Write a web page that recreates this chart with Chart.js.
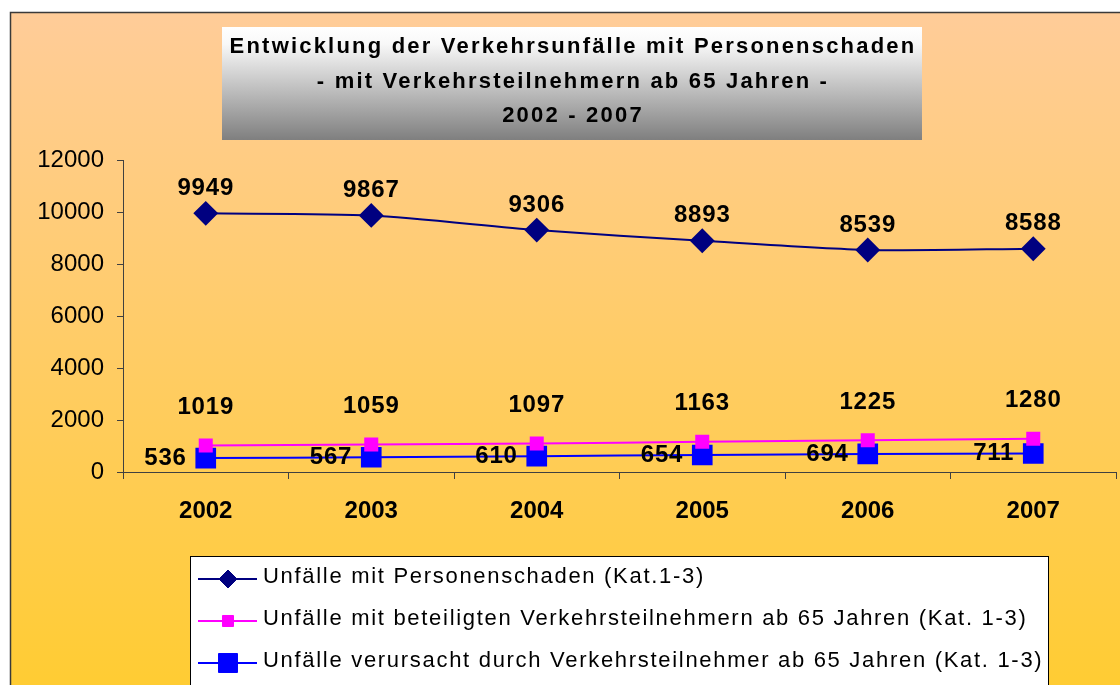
<!DOCTYPE html>
<html>
<head>
<meta charset="utf-8">
<script src="https://cdn.jsdelivr.net/npm/chart.js@4/dist/chart.umd.min.js"></script>
<style>
  body { margin: 0; background: #fff; }
  canvas { display: block; }
</style>
</head>
<body>
<canvas id="unfaelle" width="1120" height="685"></canvas>
<script>
/* Verkehrsunfaelle mit Personenschaden 2002 - 2007 */

var jahre = ['2002', '2003', '2004', '2005', '2006', '2007'];
var personenschaden = [9949, 9867, 9306, 8893, 8539, 8588];
var beteiligt65 = [1019, 1059, 1097, 1163, 1225, 1280];
var verursacht65 = [536, 567, 610, 654, 694, 711];
var serienNamen = [
    'Unfälle mit Personenschaden (Kat.1-3)',
    'Unfälle mit beteiligten Verkehrsteilnehmern ab 65 Jahren (Kat. 1-3)',
    'Unfälle verursacht durch Verkehrsteilnehmer ab 65 Jahren (Kat. 1-3)'
];
var titelZeilen = [
    'Entwicklung der Verkehrsunfälle mit Personenschaden',
    '- mit Verkehrsteilnehmern ab 65 Jahren -',
    '2002 - 2007'
];

var schrift = '"Liberation Sans", Arial, sans-serif';

// Hintergrund, Rahmen und Titelkasten
var hintergrund = {
    id: 'hintergrund',
    beforeDraw: function (chart) {
        var c = chart.ctx;
        c.save();
        c.fillStyle = '#ffffff';
        c.fillRect(0, 0, chart.width, chart.height);
        var g = c.createLinearGradient(0, 12, 0, chart.height);
        g.addColorStop(0, '#ffcc99');
        g.addColorStop(1, '#ffcc33');
        c.fillStyle = g;
        c.fillRect(10, 12, chart.width, chart.height);
        c.strokeStyle = '#3a3a3a';
        c.lineWidth = 1.5;
        c.strokeRect(10.5, 12.5, chart.width, chart.height);

        var tg = c.createLinearGradient(0, 27, 0, 140);
        tg.addColorStop(0, '#ffffff');
        tg.addColorStop(0.15, '#f8f8f8');
        tg.addColorStop(1, '#7f7f7f');
        c.fillStyle = tg;
        c.fillRect(222, 27, 700, 113);
        c.fillStyle = '#000';
        c.font = 'bold 22px ' + schrift;
        c.letterSpacing = '2.2px';
        c.textAlign = 'center';
        c.textBaseline = 'middle';
        var ys = [47, 82, 116];
        titelZeilen.forEach(function (t, i) { c.fillText(t, 573, ys[i]); });
        c.restore();
    }
};

// Datenbeschriftungen
var beschriftung = {
    id: 'beschriftung',
    afterDatasetsDraw: function (chart, args, opts) {
        var c = chart.ctx;
        c.save();
        c.font = 'bold 24px ' + schrift;
        c.letterSpacing = '0.8px';
        c.fillStyle = '#000';
        c.textBaseline = 'middle';
        chart.data.datasets.forEach(function (ds, i) {
            var o = opts.versatz[i];
            chart.getDatasetMeta(i).data.forEach(function (pt, j) {
                c.textAlign = o.align;
                c.fillText(String(ds.data[j]), pt.x + o.dx, pt.y + o.dy);
            });
        });
        c.restore();
    }
};

// Legende im weissen Kasten
var legende = {
    id: 'legende',
    afterDraw: function (chart, args, opts) {
        var c = chart.ctx;
        c.save();
        c.fillStyle = '#ffffff';
        c.fillRect(190, 556, 858, 140);
        c.strokeStyle = '#000';
        c.lineWidth = 1;
        c.strokeRect(190.5, 556.5, 858, 140);
        var ys = [579, 621, 663];
        chart.data.datasets.forEach(function (ds, i) {
            var y = ys[i];
            c.strokeStyle = ds.borderColor;
            c.lineWidth = 2;
            c.beginPath();
            c.moveTo(198, y);
            c.lineTo(257, y);
            c.stroke();
            c.fillStyle = ds.pointBackgroundColor;
            c.strokeStyle = ds.pointBackgroundColor;
            c.lineWidth = 1;
            Chart.helpers.drawPoint(c, { pointStyle: ds.pointStyle, radius: opts.radien[i], rotation: 0, borderWidth: 1 }, 228, y);
            c.fillStyle = '#000';
            c.font = '22px ' + schrift;
            c.letterSpacing = '1.7px';
            c.textAlign = 'left';
            c.textBaseline = 'middle';
            c.fillText(serienNamen[i], 263, y - 2);
        });
        c.restore();
    }
};

var ctx = document.getElementById('unfaelle').getContext('2d');
var chart = new Chart(ctx, {
    type: 'line',
    data: {
        labels: jahre,
        datasets: [{
            label: serienNamen[0],
            data: personenschaden,
            borderColor: '#000080',
            backgroundColor: '#000080',
            pointBackgroundColor: '#000080',
            pointBorderColor: '#000080',
            pointStyle: 'rectRot',
            pointRadius: 11,
            borderWidth: 2,
            tension: 0.25
        }, {
            label: serienNamen[1],
            data: beteiligt65,
            borderColor: '#ff00ff',
            backgroundColor: '#ff00ff',
            pointBackgroundColor: '#ff00ff',
            pointBorderColor: '#ff00ff',
            pointStyle: 'rect',
            pointRadius: 8.5,
            borderWidth: 2,
            tension: 0.25
        }, {
            label: serienNamen[2],
            data: verursacht65,
            borderColor: '#0000ff',
            backgroundColor: '#0000ff',
            pointBackgroundColor: '#0000ff',
            pointBorderColor: '#0000ff',
            pointStyle: 'rect',
            pointRadius: 13.2,
            borderWidth: 2,
            tension: 0.25
        }]
    },
    plugins: [hintergrund, beschriftung, legende],
    options: {
        responsive: false,
        animation: false,
        events: [],
        layout: { autoPadding: false, padding: { left: 0, top: 160, right: 4, bottom: 153 } },
        plugins: {
            legend: { display: false },
            title: { display: false },
            tooltip: { enabled: false },
            beschriftung: {
                versatz: [
                    { dx: 0, dy: -25, align: 'center' },
                    { dx: 0, dy: -38, align: 'center' },
                    { dx: -19, dy: 0, align: 'right' }
                ]
            },
            legende: { radien: [9, 7.8, 13.4] }
        },
        scales: {
            x: {
                offset: true,
                grid: { drawOnChartArea: false, offset: true, tickLength: 7, color: '#404040' },
                border: { color: '#404040', width: 1 },
                ticks: { color: '#000', padding: 18, font: { family: schrift, size: 24, weight: 'bold' } },
                afterFit: function (s) { s.height = 60; s.paddingLeft = 0; s.paddingRight = 0; }
            },
            y: {
                min: 0,
                max: 12000,
                ticks: {
                    stepSize: 2000, color: '#000', padding: 13,
                    font: { family: schrift, size: 24 },
                    callback: function (v) { return String(v); }
                },
                grid: { drawOnChartArea: false, tickLength: 6, color: '#404040' },
                border: { color: '#404040', width: 1 },
                afterFit: function (s) { s.width = 123; }
            }
        }
    }
});
</script>
</body>
</html>
